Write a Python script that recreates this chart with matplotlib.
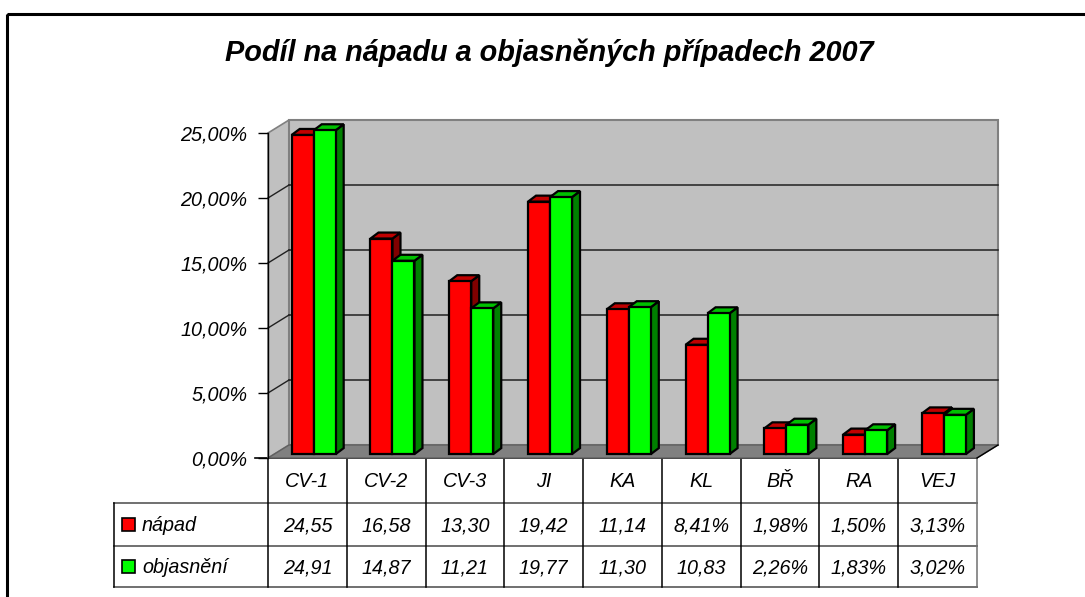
import matplotlib
matplotlib.use("Agg")
import matplotlib.pyplot as plt
from matplotlib.patches import Polygon, Rectangle
from matplotlib.transforms import blended_transform_factory
from matplotlib.ticker import FuncFormatter

plt.rcParams['font.family'] = ['Liberation Sans', 'DejaVu Sans']

# ---- data ----
categories = ["CV-1", "CV-2", "CV-3", "JI", "KA", "KL", "BŘ", "RA", "VEJ"]
napad = [24.55, 16.58, 13.30, 19.42, 11.14, 8.41, 1.98, 1.50, 3.13]
objasneni = [24.91, 14.87, 11.21, 19.77, 11.30, 10.83, 2.26, 1.83, 3.02]
series_names = ["nápad", "objasnění"]
title = "Podíl na nápadu a objasněných případech 2007"
yticks = [0, 5, 10, 15, 20, 25]

# ---- styles ----
W, H = 1085, 597
front_cols = ["#ff0000", "#00ff00"]
top_cols = ["#c00000", "#00c000"]
side_cols = ["#800000", "#008000"]
FS = 14.2

fig = plt.figure(figsize=(W / 100, H / 100), dpi=100)
fig.patch.set_facecolor("white")

# overlay axes in pixel coordinates
ov = fig.add_axes([0, 0, 1, 1])
ov.set_xlim(0, W)
ov.set_ylim(H, 0)
ov.axis("off")

# main chart axes (front plane)
x_left, x_right, y_bot, y_top = 268, 977, 458, 133
ax = fig.add_axes([x_left / W, 1 - y_bot / H, (x_right - x_left) / W, (y_bot - y_top) / H])
ax.set_xlim(0, len(categories))
ax.set_ylim(0, 25)
ax.patch.set_visible(False)
for s in ["top", "right", "bottom"]:
    ax.spines[s].set_visible(False)
ax.spines["left"].set_color("black")
ax.spines["left"].set_linewidth(1.0)
ax.set_xticks([])
ax.set_yticks(yticks)
ax.yaxis.set_major_formatter(FuncFormatter(lambda v, p: f"{v:.2f}".replace(".", ",") + "%"))
ax.tick_params(axis="y", length=7, width=1, pad=8, labelsize=FS)
for lab in ax.get_yticklabels():
    lab.set_fontstyle("italic")

n = len(categories)
ppx = (x_right - x_left) / n          # pixels per category
ppy = (y_bot - y_top) / 25.0          # pixels per percent
DX = 21 / ppx                          # wall depth in data units
DY = 13 / ppy
ymax = 25

# side wall
ax.add_patch(Polygon([(0, 0), (DX, DY), (DX, ymax + DY), (0, ymax)], closed=True,
                     facecolor="#c0c0c0", edgecolor="#808080", lw=1.2, clip_on=False, zorder=1))
# back wall
ax.add_patch(Polygon([(DX, DY), (n + DX, DY), (n + DX, ymax + DY), (DX, ymax + DY)], closed=True,
                     facecolor="#c0c0c0", edgecolor="#808080", lw=1.5, clip_on=False, zorder=1))
# gridlines
for v in yticks[1:-1]:
    ax.plot([DX, n + DX], [v + DY, v + DY], color="#202020", lw=1.1, clip_on=False, zorder=2)
    ax.plot([0, DX], [v, v + DY], color="#202020", lw=1.0, clip_on=False, zorder=2)
# floor
ax.add_patch(Polygon([(0, 0), (n, 0), (n + DX, DY), (DX, DY)], closed=True,
                     facecolor="#808080", edgecolor="#606060", lw=1.0, clip_on=False, zorder=2))
ax.plot([n, n + DX], [0, DY], color="black", lw=1.0, clip_on=False, zorder=2)

# bars
BZ = 0.3                       # bar plane fraction of depth
bx0, by0 = DX * BZ, DY * BZ
bw = 22 / ppx
bdx, bdy = 8 / ppx, 6 / ppy
group_w = 2 * bw
for i in range(n):
    for s, vals in enumerate([napad, objasneni]):
        x0 = i + 0.5 - group_w / 2 + s * bw + bx0
        base = by0
        top = by0 + vals[i]
        z = 3 + s
        kw = dict(closed=True, edgecolor="black", lw=1.6, joinstyle="miter", clip_on=False, zorder=z)
        ax.add_patch(Polygon([(x0 + bw, base), (x0 + bw + bdx, base + bdy),
                              (x0 + bw + bdx, top + bdy), (x0 + bw, top)],
                             facecolor=side_cols[s], **kw))
        ax.add_patch(Polygon([(x0, top), (x0 + bw, top), (x0 + bw + bdx, top + bdy), (x0 + bdx, top + bdy)],
                             facecolor=top_cols[s], **kw))
        ax.add_patch(Polygon([(x0, base), (x0 + bw, base), (x0 + bw, top), (x0, top)],
                             facecolor=front_cols[s], **kw))

# ---- data table ----
tr = blended_transform_factory(ax.transData, ov.transData)
row_y = [458, 503, 546, 587]
tab_left = 114
ov.plot([x_left - 13, x_right], [row_y[0]] * 2, color="black", lw=1.2, zorder=5)
for y in row_y[1:]:
    ov.plot([tab_left, x_right], [y, y], color="#707070", lw=1.4, zorder=5)
for i in range(n + 1):
    col = "#707070" if i == n else "black"
    ov.add_line(plt.Line2D([i, i], [row_y[0], row_y[3]], transform=tr, color=col, lw=1.1, zorder=5))
ov.plot([tab_left, tab_left], [row_y[1], row_y[3]], color="black", lw=1.1, zorder=5)


def fmt(v):
    s = f"{v:.2f}".replace(".", ",")
    return s if v >= 10 else s + "%"


txt_kw = dict(fontsize=FS, fontstyle="italic", ha="center", va="center", zorder=6)
for i, c in enumerate(categories):
    ov.text(i + 0.5, (row_y[0] + row_y[1]) / 2 + 1, c, transform=tr, **txt_kw)
    ov.text(i + 0.5, (row_y[1] + row_y[2]) / 2 + 1, fmt(napad[i]), transform=tr, **txt_kw)
    ov.text(i + 0.5, (row_y[2] + row_y[3]) / 2 + 1, fmt(objasneni[i]), transform=tr, **txt_kw)

for r, name in enumerate(series_names):
    yc = (row_y[r + 1] + row_y[r + 2]) / 2
    ov.add_patch(Rectangle((122, yc - 6.5), 13, 13, facecolor=front_cols[r], edgecolor="black", lw=1.2, zorder=6))
    ov.text(142, yc + 1, name, fontsize=FS, fontstyle="italic", ha="left", va="center", zorder=6)

# title
ov.text(549, 53, title, fontsize=20.8, fontweight="bold", fontstyle="italic", ha="center", va="center")

# outer border (left and top visible)
ov.add_patch(Rectangle((7, 14), 1200, 700, facecolor="none", edgecolor="black", lw=2.2, clip_on=False))

fig.savefig("out.png", dpi=100)
